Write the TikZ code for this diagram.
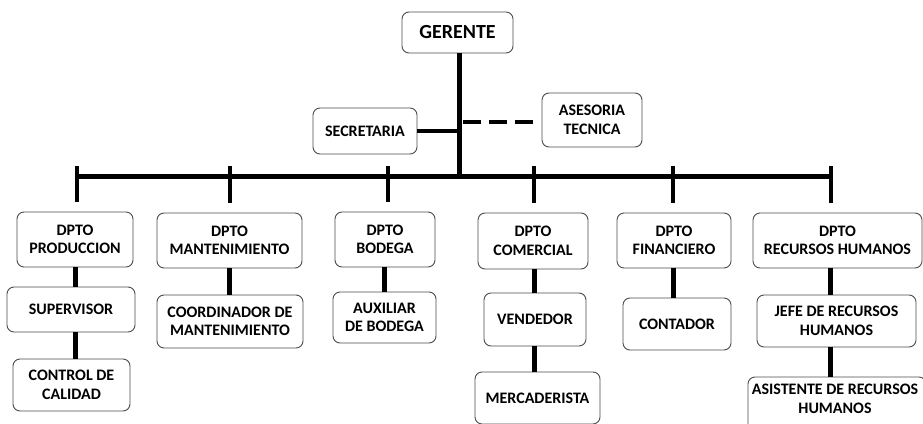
\documentclass[tikz,border=0pt]{standalone}
\usepackage{fontspec}
\setmainfont{Carlito}
\begin{document}
\begin{tikzpicture}[x=1pt,y=-1pt,
  box/.style={draw=black!70,line width=0.9pt,rounded corners=7pt,fill=white,align=center,inner sep=0pt,
    font=\fontsize{16}{18.5}\selectfont\bfseries},
  link/.style={line width=5pt},
  droplink/.style={line width=4.5pt}]
\useasboundingbox (0,0) rectangle (923,423);
\begin{scope}
\clip (0,0) rectangle (923,423);
% top
\node[box,minimum width=111pt,minimum height=41pt,font=\fontsize{20}{22}\selectfont\bfseries] (ger) at (457.5,32.5) {GERENTE};
\node[box,minimum width=104pt,minimum height=46pt] (sec) at (365,131) {SECRETARIA};
\node[box,minimum width=100pt,minimum height=54pt] (ase) at (592,120) {ASESORIA\\TECNICA};
% level 1
\node[box,minimum width=116pt,minimum height=55pt] (prod) at (75,239.5) {DPTO\\PRODUCCION};
\node[box,minimum width=145pt,minimum height=55pt] (mant) at (229.5,240.5) {DPTO\\MANTENIMIENTO};
\node[box,minimum width=100pt,minimum height=55pt] (bod) at (385,239.5) {DPTO\\BODEGA};
\node[box,minimum width=110pt,minimum height=56pt] (com) at (533,241) {DPTO\\COMERCIAL};
\node[box,minimum width=114pt,minimum height=55pt] (fin) at (674,240.5) {DPTO\\FINANCIERO};
\node[box,minimum width=169pt,minimum height=55pt] (rrhh) at (837.5,240.5) {DPTO\\RECURSOS HUMANOS};
% level 2
\node[box,minimum width=128pt,minimum height=45pt] (sup) at (71,309.5) {SUPERVISOR};
\node[box,minimum width=146pt,minimum height=53pt] (coord) at (230,321.5) {COORDINADOR DE\\MANTENIMIENTO};
\node[box,minimum width=103pt,minimum height=51pt] (aux) at (384.5,317.5) {AUXILIAR\\DE BODEGA};
\node[box,minimum width=102pt,minimum height=53pt] (vend) at (535,319.5) {VENDEDOR};
\node[box,minimum width=108pt,minimum height=52pt] (cont) at (677,324) {CONTADOR};
\node[box,minimum width=159pt,minimum height=52pt] (jefe) at (836.5,321) {JEFE DE RECURSOS\\HUMANOS};
% level 3
\node[box,minimum width=117pt,minimum height=52pt] (cc) at (71.5,385) {CONTROL DE\\CALIDAD};
\node[box,minimum width=125pt,minimum height=52pt] (merc) at (537.5,398) {MERCADERISTA};
\node[box,minimum width=178pt,minimum height=54pt] (asis) at (837,404) {};
\node[font=\fontsize{16}{18.5}\selectfont\bfseries,align=center,inner sep=0pt] (asist) at (835,399) {ASISTENTE DE RECURSOS\\HUMANOS};
% trunk
\coordinate (bar) at (459,176);
\coordinate (barL) at (77,176);
\coordinate (barR) at (832,176);
\draw[link] ([xshift=1.5pt]ger.south) -- (bar);
\draw[link] (barL) -- (barR);
\draw[line width=4.5pt] (sec.east) -- (sec.east -| bar);
\coordinate (dashA) at (463,122);
\coordinate (dashB) at (535,122);
\draw[line width=4pt,dash pattern=on 18pt off 8pt] (dashA) -- (dashB);
% drops
\foreach \n/\dx in {prod/2,mant/0.5,bod/3,com/1,fin/-1,rrhh/-6.5}{
  \draw[droplink] ([xshift=\dx pt,yshift=10pt]\n.north |- bar) -- ([xshift=\dx pt,yshift=10pt]\n.north);
}
% level links
\draw[link] (prod.south) -- (prod.south |- sup.north);
\draw[link] ([xshift=4pt]sup.south) -- ([xshift=4pt]sup.south |- cc.north);
\draw[link] (mant.south) -- (mant.south |- coord.north);
\draw[link] ([xshift=-1pt]bod.south) -- ([xshift=-1pt]bod.south |- aux.north);
\draw[link] ([xshift=1pt]com.south) -- ([xshift=1pt]com.south |- vend.north);
\draw[link] ([xshift=-1pt]vend.south) -- ([xshift=-1pt]vend.south |- merc.north);
\draw[link] ([xshift=-1pt]fin.south) -- ([xshift=-1pt]fin.south |- cont.north);
\draw[link] ([xshift=-7pt]rrhh.south) -- ([xshift=-7pt]rrhh.south |- jefe.north);
\draw[link] ([xshift=-6pt]jefe.south) -- ([xshift=-6pt]jefe.south |- asis.north);
\end{scope}
\end{tikzpicture}
\end{document}
